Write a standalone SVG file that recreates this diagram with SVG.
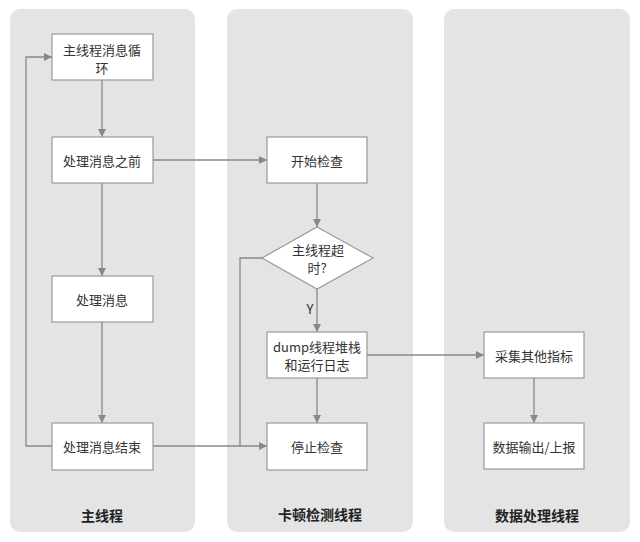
<svg xmlns="http://www.w3.org/2000/svg" width="640" height="542" viewBox="0 0 640 542">
<style>
.lane{fill:#e4e4e4;}
.box{fill:#ffffff;stroke:#9a9a9a;stroke-width:1.2;}
.t{font-family:"Noto Sans CJK SC","Noto Sans",sans-serif;font-size:13px;fill:#333;text-anchor:middle;dominant-baseline:central;}
.lt{font-family:"Noto Sans CJK SC","Noto Sans",sans-serif;font-size:14px;font-weight:bold;fill:#222;text-anchor:middle;dominant-baseline:central;}
.c{fill:none;stroke:#888;stroke-width:1.3;}
.ca{fill:none;stroke:#888;stroke-width:1.3;marker-end:url(#ah);}
</style>
<defs>
<marker id="ah" viewBox="0 0 10 10" refX="10" refY="5" markerWidth="8" markerHeight="8" markerUnits="userSpaceOnUse" orient="auto">
<path d="M0,0 L10,5 L0,10 z" fill="#888"/>
</marker>
</defs>
<g id="lanes">
<rect class="lane" x="10" y="9" width="185" height="523" rx="10"/>
<rect class="lane" x="227" y="9" width="186" height="523" rx="10"/>
<rect class="lane" x="444" y="9" width="186" height="523" rx="10"/>
<text class="lt" x="102" y="515">主线程</text>
<text class="lt" x="320" y="514">卡顿检测线程</text>
<text class="lt" x="537" y="515">数据处理线程</text>
</g>
<g id="connectors">
<line class="ca" x1="102" y1="80" x2="102" y2="137"/>
<line class="ca" x1="102" y1="183" x2="102" y2="276"/>
<line class="ca" x1="102" y1="322" x2="102" y2="423"/>
<polyline class="ca" points="52,446 26,446 26,57 52,57"/>
<line class="ca" x1="153" y1="160" x2="267" y2="160"/>
<line class="ca" x1="317" y1="183" x2="317" y2="227"/>
<line class="ca" x1="317" y1="289" x2="317" y2="332"/>
<text class="t" x="310" y="308">Y</text>
<polyline class="c" points="262,258 240,258 240,446"/>
<line class="ca" x1="153" y1="446" x2="267" y2="446"/>
<line class="ca" x1="317" y1="378" x2="317" y2="423"/>
<line class="ca" x1="367" y1="355" x2="484" y2="355"/>
<line class="ca" x1="534" y1="378" x2="534" y2="423"/>
</g>
<g id="n1"><rect class="box" x="52" y="34" width="101" height="46"/><text class="t" x="102" y="49">主线程消息循</text><text class="t" x="102" y="67">环</text></g>
<g id="n2"><rect class="box" x="52" y="137" width="101" height="46"/><text class="t" x="102" y="160">处理消息之前</text></g>
<g id="n3"><rect class="box" x="52" y="276" width="101" height="46"/><text class="t" x="102" y="299">处理消息</text></g>
<g id="n4"><rect class="box" x="52" y="423" width="101" height="47"/><text class="t" x="102" y="446">处理消息结束</text></g>
<g id="n5"><rect class="box" x="267" y="137" width="100" height="46"/><text class="t" x="317" y="160">开始检查</text></g>
<g id="n6"><polygon class="box" points="317,227 373,258 317,289 262,258"/><text class="t" x="318" y="249">主线程超</text><text class="t" x="317" y="267">时?</text></g>
<g id="n7"><rect class="box" x="267" y="332" width="100" height="46"/><text class="t" x="317" y="346">dump线程堆栈</text><text class="t" x="317" y="364">和运行日志</text></g>
<g id="n8"><rect class="box" x="267" y="423" width="100" height="47"/><text class="t" x="317" y="446">停止检查</text></g>
<g id="n9"><rect class="box" x="484" y="332" width="100" height="46"/><text class="t" x="534" y="355">采集其他指标</text></g>
<g id="n10"><rect class="box" x="484" y="423" width="100" height="46"/><text class="t" x="534" y="446">数据输出/上报</text></g>
</svg>
